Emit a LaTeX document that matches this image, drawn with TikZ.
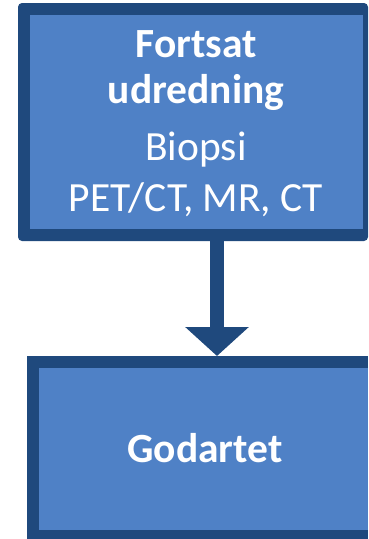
\documentclass[tikz,border=0pt]{standalone}
\usepackage{fontspec}
\setmainfont{Carlito}
\usetikzlibrary{arrows.meta,calc}
\definecolor{boxfill}{HTML}{4F81C6}
\definecolor{boxline}{HTML}{1F497D}
\tikzset{
  outerbox/.style={fill=boxline, rounded corners=4pt, inner sep=0pt, outer sep=0pt},
  txt/.style={text=white, anchor=base, inner sep=0pt, font=\fontsize{41.5}{49}\selectfont},
  btxt/.style={txt, font=\fontsize{41.5}{49}\selectfont\bfseries},
  flowarrow/.style={draw=boxline, line width=14pt, -{Triangle[width=62pt,length=29pt]}}
}
\begin{document}
\begin{tikzpicture}[x=1pt,y=-1pt]
\useasboundingbox (0,0) rectangle (368,539);
% top box
\node[outerbox, minimum width=350pt, minimum height=238pt] (box1) at (193,122) {};
\fill[boxfill] ($(box1.north west)+(12,12)$) rectangle ($(box1.south east)+(-5,-12)$);
\node[btxt] (t1) at (196,57) {Fortsat};
\node[btxt] (t2) at (196,103) {udredning};
\node[txt] (t3) at (196,160) {Biopsi};
\node[txt] (t4) at (196,211) {PET/CT, MR, CT};
% bottom box
\node[outerbox, minimum width=341pt, minimum height=183pt, rounded corners=0pt] (box2) at (197.5,447.5) {};
\fill[boxfill] ($(box2.north west)+(11.5,12)$) rectangle ($(box2.east)+(0,82)$);
\node[btxt] (t5) at (205,462) {Godartet};
% arrow
\coordinate (ax) at (217,0);
\draw[flowarrow] (box1.south -| ax) -- (box2.north -| ax);
\end{tikzpicture}
\end{document}
